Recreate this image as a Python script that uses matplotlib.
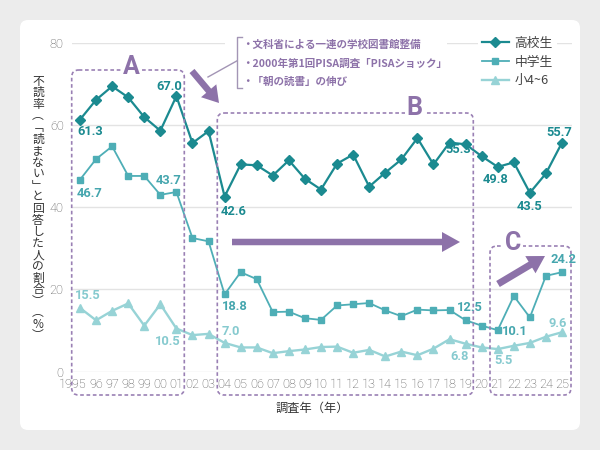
import matplotlib
matplotlib.use('Agg')
import matplotlib.pyplot as plt
from matplotlib.transforms import Affine2D
from matplotlib.patches import FancyBboxPatch, FancyArrow, Rectangle
from matplotlib.lines import Line2D

# ---------------- data ----------------
years = [1995, 1996, 1997, 1998, 1999, 2000, 2001, 2002, 2003, 2004, 2005,
         2006, 2007, 2008, 2009, 2010, 2011, 2012, 2013, 2014, 2015, 2016,
         2017, 2018, 2019, 2020, 2021, 2022, 2023, 2024, 2025]
year_labels = ['1995', '96', '97', '98', '99', '00', '01', '02', '03', '04', '05',
               '06', '07', '08', '09', '10', '11', '12', '13', '14', '15', '16',
               '17', '18', '19', '20', '21', '22', '23', '24', '25']
high = [61.3, 66.1, 69.4, 66.7, 61.9, 58.6, 67.0, 55.6, 58.5, 42.6, 50.4,
        50.2, 47.7, 51.4, 46.9, 44.3, 50.6, 52.8, 45.0, 48.4, 51.6, 56.8,
        50.4, 55.7, 55.3, 52.4, 49.8, 50.9, 43.5, 48.2, 55.7]
middle = [46.7, 51.7, 54.8, 47.6, 47.6, 43.0, 43.7, 32.5, 31.7, 18.8, 24.2,
          22.5, 14.5, 14.6, 13.0, 12.6, 16.1, 16.4, 16.7, 14.9, 13.5, 15.1,
          14.9, 15.0, 12.5, 11.2, 10.1, 18.4, 13.2, 23.3, 24.2]
elem = [15.5, 12.5, 14.8, 16.6, 11.2, 16.4, 10.5, 8.9, 9.2, 7.0, 5.9,
        5.9, 4.5, 5.0, 5.4, 6.0, 6.1, 4.6, 5.3, 3.7, 4.9, 4.0,
        5.6, 7.9, 6.8, 5.9, 5.5, 6.3, 7.0, 8.5, 9.6]
series_names = ['高校生', '中学生', '小4~6']
yticks = [0, 20, 40, 60, 80]
ylabel_text = '不読率（「読まない」と回答した人の割合）（%）'
xlabel_text = '調査年（年）'
note_lines = ['・文科省による一連の学校図書館整備',
              '・2000年第1回PISA調査「PISAショック」',
              '・「朝の読書」の伸び']
box_names = ['A', 'B', 'C']

# ---------------- style ----------------
C_HIGH = '#1b8a90'
C_MID = '#4eaeb6'
C_ELEM = '#97d3d6'
C_HIGH_T = '#1b8a90'
C_MID_T = '#45a6ae'
C_ELEM_T = '#86cacf'
PURPLE = '#8d72a9'
BOXC = '#9a80b4'
GRID = '#e3e3e3'
JP = ['Noto Sans CJK JP', 'DejaVu Sans']
NUM = ['Roboto', 'Noto Sans CJK JP', 'DejaVu Sans']

W, H = 600, 450
fig = plt.figure(figsize=(6, 4.5), dpi=100, facecolor='#ececec')
PX = Affine2D().scale(1 / W, -1 / H).translate(0, 1) + fig.transFigure

panel = FancyBboxPatch((20, 20), 560, 410, boxstyle='round,pad=0,rounding_size=8',
                       transform=PX, facecolor='white', edgecolor='none', zorder=-10)
fig.patches.append(panel)

ax_l, ax_r, ax_t, ax_b = 72, 571.6, 42.7, 371.7
ax = fig.add_axes([ax_l / W, 1 - ax_b / H, (ax_r - ax_l) / W, (ax_b - ax_t) / H])
ax.set_facecolor('none')
ppy = 16.067
ax.set_xlim(1995 - 8 / ppy, 2025 + 9.6 / ppy)
ax.set_ylim(0, 80)
for s in ax.spines.values():
    s.set_visible(False)
ax.set_axisbelow(True)
ax.set_yticks(yticks)
ax.set_yticklabels([str(v) for v in yticks], fontfamily=NUM, fontweight='light',
                   fontsize=9.2, color='#555555')
ax.tick_params(axis='y', length=0, pad=6)
ax.set_xticks([])
ax.grid(axis='y', color=GRID, linewidth=1.0)

# x tick labels (manual, first one hangs left)
for yr, lab in zip(years, year_labels):
    first = lab == year_labels[0]
    ax.annotate(lab, (yr, 0), xycoords=('data', 'axes fraction'),
                xytext=((7.0 * 0.72) if first else 0, -13.0 * 0.72),
                textcoords='offset points', ha='right' if first else 'center',
                va='center', fontsize=9.2, fontfamily=NUM, fontweight='light',
                color='#555555', annotation_clip=False)

# lines
lh, = ax.plot(years, high, color=C_HIGH, lw=1.6, marker='D', ms=4.8, zorder=5,
              label=series_names[0])
lm, = ax.plot(years, middle, color=C_MID, lw=1.3, marker='s', ms=4.8, zorder=4,
              label=series_names[1])
le, = ax.plot(years, elem, color=C_ELEM, lw=1.7, marker='^', ms=5.5, zorder=3,
              label=series_names[2])

# value labels (offsets in pixels, y positive downward)
def put_labels(xs, vals, spec, color):
    for yr, (dx, dy) in spec.items():
        v = vals[xs.index(yr)]
        ax.annotate(f'{v:.1f}', (yr, v), xytext=(dx * 0.72, -dy * 0.72),
                    textcoords='offset points', ha='center', va='center',
                    fontsize=9.3, fontweight='bold', fontfamily=NUM, color=color,
                    zorder=7, annotation_clip=False)

put_labels(years, high, {1995: (10, 11.4), 2001: (-7.4, -9.5), 2004: (9.4, 14.5),
                         2019: (-7.7, 5.5), 2021: (-1.8, 12.5), 2023: (0, 13.5),
                         2025: (-3, -10.6)}, C_HIGH_T)
put_labels(years, middle, {1995: (10, 13.4), 2001: (-7.4, -11), 2004: (10.4, 12.6),
                           2019: (4.3, -12.3), 2021: (16.7, 1.5), 2025: (1, -12.2)}, C_MID_T)
put_labels(years, elem, {1995: (8, -12), 2001: (-8.4, 12.5), 2004: (6.4, -11),
                         2019: (-5.7, 12.3), 2021: (6.2, 11), 2025: (-4, -9.2)}, C_ELEM_T)

# y label (vertical, upright characters)
vert_map = {'（': '︵', '）': '︶', '「': '﹁', '」': '﹂'}
chars = [vert_map.get(c, c) for c in ylabel_text]
y0, y1 = 81, 336
step = (y1 - y0) / (len(chars) - 1)
for i, c in enumerate(chars):
    fig.text(38, y0 + i * step, c, transform=PX, ha='center', va='center',
             fontsize=8.5, fontfamily=JP, color='#333333')

fig.text(312, 408, xlabel_text, transform=PX, ha='center', va='center',
         fontsize=8.8, fontfamily=JP, color='#333333')

# white cover behind note (hides gridline)
ax.add_patch(Rectangle((225, 32), 222, 62, transform=PX, facecolor='white',
                       edgecolor='none', zorder=1, clip_on=False))

# note bracket + leader
bk = '#a395b5'
ax.add_line(Line2D([242, 236.7, 236.7, 242], [37, 37, 88, 88], transform=PX,
                   color=bk, lw=1.0, zorder=6, clip_on=False))
ax.add_line(Line2D([208, 236.7], [77, 61], transform=PX, color=bk, lw=1.0,
                   zorder=6, clip_on=False))
for i, t in enumerate(note_lines):
    ax.text(242, 45 + i * 18.5, t, transform=PX, ha='left', va='center',
            fontsize=7.6, fontfamily=JP, fontweight='bold', color=PURPLE,
            zorder=6, clip_on=False)

# dashed boxes
def dbox(l, t, r, b):
    p = FancyBboxPatch((l, t), r - l, b - t, boxstyle='round,pad=0,rounding_size=7',
                       transform=PX, facecolor='none', edgecolor=BOXC, lw=1.2,
                       linestyle=(0, (2.2, 1.6)), zorder=6, clip_on=False)
    ax.add_patch(p)

dbox(71.7, 70, 184.3, 395)
dbox(217.3, 113, 473.3, 395)
dbox(490, 246, 571, 395)

for name, (x, y) in zip(box_names, [(131, 67), (414.5, 108), (513, 243)]):
    ax.text(x, y, name, transform=PX, ha='center', va='center', fontsize=18,
            fontweight='bold', fontfamily=NUM, color=PURPLE, zorder=8, clip_on=False,
            bbox=dict(facecolor='white', edgecolor='none', pad=1.5))

# arrows
def arrow(x0, y0, x1, y1, w=6.5, hw=20, hl=17):
    a = FancyArrow(x0, y0, x1 - x0, y1 - y0, width=w, head_width=hw, head_length=hl,
                   length_includes_head=True, transform=PX, facecolor=PURPLE,
                   edgecolor='none', zorder=7, clip_on=False)
    ax.add_patch(a)

arrow(192, 71, 219, 103, w=6.5, hw=20, hl=16)
arrow(232, 242, 460, 242, w=6.5, hw=20, hl=18)
arrow(498, 284, 545, 256, w=7, hw=20, hl=17)

# legend
leg = ax.legend(handles=[lh, lm, le], loc='upper left',
                bbox_to_anchor=(478 / W, 1 - 33 / H), bbox_transform=fig.transFigure,
                borderaxespad=0, frameon=True, fancybox=False, framealpha=1,
                edgecolor='none', facecolor='white', handlelength=2.1,
                handletextpad=0.45, labelspacing=0.45, borderpad=0.3,
                prop={'family': JP, 'size': 9.2})
for t in leg.get_texts():
    t.set_color('#444444')
leg.set_zorder(8)

fig.savefig('out.png', dpi=100, facecolor=fig.get_facecolor())
